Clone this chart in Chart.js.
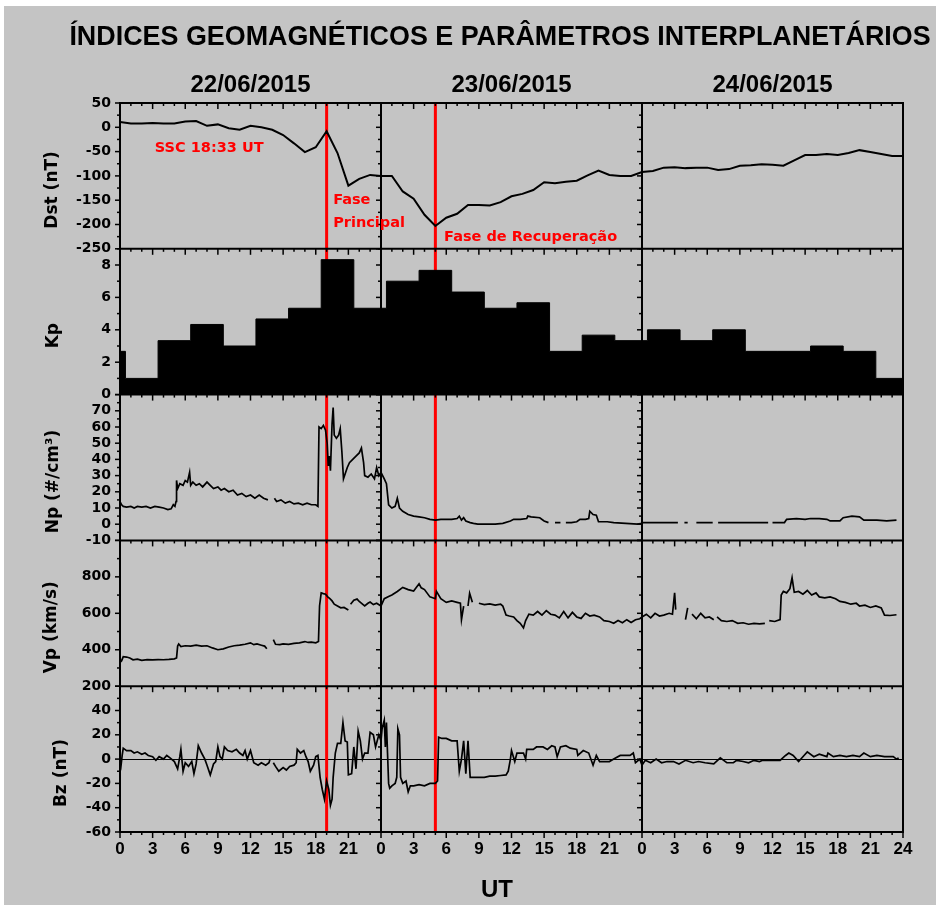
<!DOCTYPE html>
<html lang="pt">
<head>
<meta charset="utf-8">
<title>Índices geomagnéticos e parâmetros interplanetários</title>
<script src="https://cdn.jsdelivr.net/npm/chart.js@4.4.0/dist/chart.umd.min.js"></script>
<style>
  html, body { margin: 0; padding: 0; background: #fff; overflow: hidden; }
  #fundo { position: absolute; left: 4px; top: 6px; width: 932px; height: 899px; background: #c4c4c4; }
  #grafico { position: absolute; left: 0; top: 0; }
  #titulo {
    position: absolute; left: 0; top: 22px; width: 1000px; margin: 0;
    text-align: center; white-space: nowrap;
    font: bold 28px/28px "Liberation Sans", Arial, sans-serif; color: #000;
    transform: scaleX(0.96); transform-origin: 500px 0;
  }
</style>
</head>
<body>
<div id="fundo"></div>
<canvas id="grafico" width="936" height="908"></canvas>
<h1 id="titulo">ÍNDICES GEOMAGNÉTICOS E PARÂMETROS INTERPLANETÁRIOS</h1>
<script>
'use strict';

/* ── dados (horas desde 22/06/2015 00 UT) ── */
const DAY_LABELS = ['22/06/2015', '23/06/2015', '24/06/2015'];
const EVENT_HOURS = [19, 29]; // SSC 18:33 UT e início da fase de recuperação

// Dst horário, 0 a 72 h
const DST_VALUES = [
  11, 8, 8, 9, 8, 8, 12, 13, 3, 6, -2, -5, 3, 0, -5, -16, -33, -51, -41, -8, -53, -120, -106, -98,
  -100, -100, -132, -147, -180, -203, -186, -178, -160, -160, -161, -154, -142, -137, -129, -113, -115, -112, -110, -99, -89, -98, -100, -100,
  -92, -90, -83, -82, -84, -83, -83, -88, -86, -79, -78, -76, -77, -79, -68, -57, -57, -55, -57, -53, -47, -51, -55, -59, -59,
];

// Kp em intervalos de 3 h (o primeiro intervalo começa em -2.5 h)
const KP_FIRST_BIN = -2.5;
const KP_VALUES = [
  2.67, 1.0, 3.33, 4.33, 3.0, 4.67, 5.33, 8.33, 5.33,
  7.0, 7.67, 6.33, 5.33, 5.67, 2.67, 3.67, 3.33,
  4.0, 3.33, 4.0, 2.67, 2.67, 3.0, 2.67, 1.0,
];

// Np (#/cm³): [hora, valor]; null = lacuna
const NP_SERIES = [
  [0, 14], [0.15, 12], [0.3, 11], [0.6, 10.5], [1, 11], [1.3, 10], [1.6, 11], [2, 10.5], [2.4, 11], [2.8, 10],
  [3.2, 11], [3.6, 10.5], [4, 10], [4.4, 9], [4.7, 9.5], [4.9, 12], [5.05, 11], [5.15, 14], [5.2, 27], [5.3, 22],
  [5.5, 25], [5.8, 24], [6, 27], [6.2, 26], [6.4, 32], [6.5, 24], [6.7, 26], [7, 24], [7.3, 25], [7.6, 23],
  [8, 26], [8.3, 24], [8.6, 22], [9, 23], [9.3, 21], [9.6, 22], [10, 20], [10.4, 21], [10.8, 18], [11.2, 19],
  [11.6, 17], [12, 18], [12.4, 16], [12.8, 18], [13.2, 16], [13.6, 15], [13.8, null], [14.2, 16], [14.4, 14], [14.8, 15],
  [15.2, 13], [15.6, 14], [16, 12.5], [16.4, 13], [16.8, 12], [17.2, 13], [17.6, 12], [18, 12], [18.2, 11], [18.3, 60],
  [18.5, 59], [18.7, 61], [18.9, 58], [19.05, 50], [19.15, 36], [19.25, 42], [19.35, 33], [19.5, 62], [19.6, 72], [19.7, 55],
  [19.9, 53], [20.1, 55], [20.25, 59], [20.4, 45], [20.55, 28], [20.9, 35], [21.1, 38], [21.4, 40], [21.7, 42], [22, 44],
  [22.2, 47], [22.4, 38], [22.5, 30], [22.8, 29], [23.1, 31], [23.4, 28], [23.6, 35], [23.8, 30], [24, 32], [24.3, 28],
  [24.5, 25], [24.7, 12], [25, 10], [25.3, 11], [25.5, 16], [25.7, 10], [26, 8], [26.5, 6], [27, 5], [27.5, 4.5],
  [28, 4], [28.5, 3], [29, 2.5], [29.5, 3], [30, 3], [30.5, 3], [31, 3.5], [31.2, 5], [31.4, 2.5], [31.6, 4],
  [31.8, 2], [32.2, 1], [32.5, 0.5], [32.9, 0], [33.5, 0], [34, 0], [34.5, 0], [35.2, 0.5], [35.9, 2], [36.2, 3],
  [36.8, 3], [37.4, 3.5], [37.5, 5], [37.8, 4.5], [38.6, 4], [39, 2], [39.4, 1], [39.6, null], [40, 1], [40.5, 1],
  [40.7, null], [41, 1], [41.5, 1], [42, 1.5], [42.3, 3], [42.8, 3], [43.1, 3.5], [43.2, 8], [43.5, 6], [43.8, 5.5],
  [44, 1.5], [44.8, 1.5], [45.4, 1], [46.5, 0.5], [47.6, 0], [48, 0.5], [48.1, 1], [49, 1], [50, 1], [51.3, 1],
  [51.5, null], [51.9, 1], [52.2, 1], [52.4, null], [53, 1], [54.5, 1], [54.7, null], [55, 1], [56, 1], [57, 1],
  [58, 1], [59.6, 1], [59.8, null], [60, 1], [61.1, 1], [61.3, 3], [62.2, 3.5], [63, 3], [63.5, 3.5], [64.3, 3.5],
  [65, 3], [65.3, 2], [66.2, 2], [66.5, 4], [67.3, 5], [68, 4.5], [68.4, 2.5], [69.6, 2.5], [70.5, 2], [71.4, 2.5],
];

// Vp (km/s): [hora, valor]
const VP_SERIES = [
  [0, 330], [0.15, 340], [0.3, 362], [0.6, 360], [0.9, 355], [1.2, 345], [1.6, 348], [2, 342], [2.5, 346], [3, 344],
  [3.5, 346], [4, 345], [4.5, 347], [5, 350], [5.2, 355], [5.3, 420], [5.4, 432], [5.6, 418], [6, 422], [6.5, 420],
  [7, 425], [7.5, 420], [8, 422], [8.5, 410], [9, 400], [9.5, 405], [10, 415], [10.5, 422], [11, 425], [11.5, 430],
  [12, 438], [12.3, 428], [12.6, 432], [13, 425], [13.3, 420], [13.5, 405], [13.6, null], [14.1, 455], [14.3, 430], [14.7, 428],
  [15, 432], [15.5, 430], [16, 435], [16.5, 438], [17, 445], [17.3, 440], [17.6, 442], [18, 438], [18.25, 445], [18.35, 640],
  [18.5, 712], [18.7, 708], [18.9, 705], [19.1, 690], [19.3, 680], [19.5, 668], [19.7, 650], [20, 640], [20.3, 630], [20.6, 632],
  [20.8, 625], [21, 618], [21.1, null], [21.2, 650], [21.5, 672], [21.8, 678], [22, 665], [22.3, 650], [22.5, 640], [22.8, 655],
  [23, 662], [23.3, 648], [23.6, 655], [24, 640], [24.3, 680], [24.7, 692], [25, 700], [25.5, 720], [26, 742], [26.5, 730],
  [27, 722], [27.5, 762], [27.7, 740], [28, 730], [28.5, 690], [29, 680], [29.1, 720], [29.5, 680], [30, 660], [30.5, 668],
  [31, 660], [31.3, 655], [31.4, 565], [31.6, 640], [31.8, null], [32, 640], [32.15, 710], [32.4, 660], [32.6, null], [33, 655],
  [33.5, 648], [34, 652], [34.5, 645], [35, 650], [35.2, 640], [35.5, 590], [35.8, 585], [36.2, 580], [36.5, 560], [36.8, 545],
  [37.1, 520], [37.3, 560], [37.6, 595], [38, 590], [38.4, 610], [38.8, 590], [39.2, 615], [39.6, 595], [40, 590], [40.4, 575],
  [40.8, 610], [41.2, 575], [41.6, 605], [42, 580], [42.4, 572], [42.8, 600], [43.2, 585], [43.6, 590], [44.1, 580], [44.5, 560],
  [45, 555], [45.4, 545], [45.8, 560], [46.2, 548], [46.6, 565], [47, 550], [47.4, 565], [47.8, 570], [48, 580], [48.4, 595],
  [48.8, 575], [49.2, 600], [49.6, 585], [50, 590], [50.5, 600], [50.8, 595], [51, 712], [51.1, 620], [51.2, null], [52, 565],
  [52.2, 630], [52.3, null], [52.6, 595], [53, 570], [53.4, 600], [53.8, 575], [54.2, 580], [54.6, 565], [54.7, null], [54.9, 580],
  [55.3, 560], [55.8, 555], [56.3, 560], [56.8, 545], [57.3, 548], [57.8, 540], [58.3, 545], [58.8, 542], [59.3, 545], [59.5, null],
  [59.7, 560], [60.2, 555], [60.7, 565], [60.8, 700], [61, 720], [61.3, 712], [61.6, 735], [61.8, 795], [62, 715], [62.4, 720],
  [62.8, 705], [63.2, 725], [63.6, 700], [64, 712], [64.3, 690], [64.8, 685], [65.3, 690], [65.8, 680], [66.2, 665], [66.7, 660],
  [67.2, 650], [67.7, 655], [68, 640], [68.5, 645], [69, 632], [69.5, 640], [70, 630], [70.3, 590], [70.8, 588], [71.4, 592],
];

// Bz (nT): [hora, valor]
const BZ_SERIES = [
  [0, 0], [0.1, -5], [0.2, 3], [0.3, 9], [0.6, 7], [1, 7], [1.3, 5], [1.6, 6], [2, 4], [2.3, 5],
  [2.6, 3], [3, 2], [3.3, -1], [3.6, 2], [4, 0], [4.3, 3], [4.6, 1], [5, -2], [5.3, -8], [5.5, 2],
  [5.6, 8], [5.8, -10], [6, -3], [6.3, -6], [6.6, -2], [6.8, -12], [7, -4], [7.2, 11], [7.5, 5], [7.8, 0],
  [8, -5], [8.3, -13], [8.6, -4], [8.8, -2], [9, 10], [9.2, 2], [9.4, 0], [9.6, 10], [9.9, 7], [10.3, 6],
  [10.7, 8], [11, 5], [11.3, 3], [11.5, 7], [11.7, 0], [12, 7], [12.3, -3], [12.7, -5], [13, -3], [13.4, -5],
  [13.7, -3], [13.8, 0], [13.9, null], [14.1, -3], [14.3, -6], [14.6, -10], [15, -7], [15.3, -9], [15.6, -6], [16, -5],
  [16.2, -3], [16.3, 8], [16.6, 5], [16.9, 7], [17.1, 2], [17.3, -2], [17.5, -10], [17.8, -5], [18, 2], [18.2, 3],
  [18.4, -15], [18.6, -25], [18.8, -33], [19, -18], [19.2, -25], [19.35, -38], [19.5, -33], [19.6, -15], [19.8, 5], [20, 13],
  [20.3, 13], [20.5, 30], [20.7, 15], [20.9, 14], [21, -13], [21.3, -12], [21.5, 10], [21.7, -8], [21.9, 23], [22.1, 15],
  [22.3, 0], [22.5, 5], [22.8, 5], [23, 22], [23.3, 20], [23.5, 10], [23.8, 20], [24, 15], [24.1, 25], [24.3, 32],
  [24.4, 10], [24.5, 30], [24.6, 5], [24.7, -20], [24.8, -24], [25, -22], [25.3, -20], [25.45, -15], [25.55, 25], [25.7, 20],
  [25.8, -15], [26, -20], [26.3, -18], [26.5, -27], [26.7, -22], [27, -22], [27.5, -21], [28, -22], [28.5, -20], [29, -20],
  [29.2, -18], [29.3, 18], [29.6, 17], [30, 17], [30.5, 15], [31, 15], [31.2, -10], [31.4, 0], [31.6, 15], [31.8, -12],
  [32, 15], [32.2, -15], [32.5, -15], [33, -15], [33.5, -15], [34, -14], [34.5, -14], [35, -13.5], [35.5, -13], [35.7, -10],
  [35.9, 0], [36, 7], [36.3, -2], [36.5, 5], [37.1, 5], [37.3, 0], [37.4, 8], [38, 8], [38.3, 10], [38.9, 10],
  [39.3, 8], [39.7, 11], [40, 10], [40.2, 2], [40.5, 10], [41, 11], [41.4, 9], [42, 8], [42.1, 3], [42.6, 7],
  [43.1, 5], [43.5, -5], [43.8, 3], [44.1, -2], [45, -2], [45.4, 0], [46, 3], [46.9, 3], [47.2, 5], [47.4, -3],
  [47.8, 0], [48, -5], [48.3, -1], [48.8, -3], [49.3, 0], [49.8, -3], [50.3, -2], [50.9, -2], [51.4, -4], [52, -1],
  [52.7, -3], [53.2, -2], [53.8, -3], [54.6, -4], [55.2, 1], [55.8, -3], [56.4, -3], [56.7, -1], [57.3, -2], [57.8, -3],
  [58.3, -1], [58.8, -2], [59.1, -1], [60, -1], [60.7, -1], [61.2, 3], [61.5, 5], [61.9, 3], [62.4, -2], [62.9, 3],
  [63.2, 6], [63.8, 2], [64.3, 4], [65, 2], [65.1, 5], [65.6, 2], [66.2, 3], [66.8, 2], [67.4, 3], [68, 2],
  [68.4, 5], [69, 2], [69.6, 3], [70.3, 2], [71.1, 2], [71.4, 0], [71.6, 1],
];

/* ── aparência ── */
const SANS = '"DejaVu Sans", Verdana, sans-serif';
const ARIAL = '"Liberation Sans", Arial, sans-serif';
const TICK_FONT = { family: SANS, size: 14, weight: 'bold' };

// um painel por eixo y, de cima para baixo
const PANELS = [
  { id: 'yDst', title: 'Dst (nT)',   min: -250, max: 50,   step: 50,  minor: 25,  titleX: 53 },
  { id: 'yKp',  title: 'Kp',         min: 0,    max: 9,    step: 2,   minor: 1,   titleX: 54 },
  { id: 'yNp',  title: 'Np (#/cm³)', min: -10,  max: 80,   step: 10,  minor: 5,   titleX: 54 },
  { id: 'yVp',  title: 'Vp (km/s)',  min: 200,  max: 1000, step: 200, minor: 100, titleX: 52 },
  { id: 'yBz',  title: 'Bz (nT)',    min: -60,  max: 60,   step: 20,  minor: 10,  titleX: 62 },
];

const NOTES = [
  { text: 'SSC 18:33 UT',        hour: 3.2,  dst: -43 },
  { text: 'Fase',                hour: 19.6, dst: -150 },
  { text: 'Principal',           hour: 19.6, dst: -198 },
  { text: 'Fase de Recuperação', hour: 29.8, dst: -226 },
];

function seg(ctx, x1, y1, x2, y2) {
  ctx.beginPath();
  ctx.moveTo(x1, y1);
  ctx.lineTo(x2, y2);
  ctx.stroke();
}

const toPoints = series => series.map(([x, y]) => ({ x, y }));

/* ── molduras, marcas, linhas de evento e textos ── */
const panelFrame = {
  id: 'panelFrame',
  beforeDatasetsDraw(chart) {
    const { ctx, chartArea: a, scales } = chart;
    ctx.save();
    ctx.strokeStyle = '#000';
    ctx.lineWidth = 1;
    const y0 = Math.round(scales.yBz.getPixelForValue(0)) + 0.5;
    seg(ctx, a.left, y0, a.right, y0);

    ctx.strokeStyle = '#ff0000';
    ctx.lineWidth = 3;
    EVENT_HOURS.forEach(h => {
      const px = scales.x.getPixelForValue(h);
      seg(ctx, px, a.top, px, a.bottom);
    });
    ctx.restore();
  },
  afterDatasetsDraw(chart) {
    const { ctx, chartArea: a, scales } = chart;
    const sx = scales.x;
    ctx.save();
    ctx.strokeStyle = '#000';

    // marcas do eixo x (para baixo) e do eixo y (para a esquerda)
    ctx.lineWidth = 1.5;
    const xTicks = yTop => {
      for (let h = 0; h <= 72; h++) {
        const px = sx.getPixelForValue(h);
        seg(ctx, px, yTop, px, yTop + (h % 3 === 0 ? 6 : 3));
      }
    };
    PANELS.forEach(p => {
      const s = scales[p.id];
      xTicks(s.top);
      for (let v = p.min; v <= p.max; v += p.minor) {
        const py = s.getPixelForValue(v);
        const len = Math.round((v - p.min) / p.minor) % 2 === 0 ? 5 : 3;
        [0, 24, 48].forEach(h => {
          const px = sx.getPixelForValue(h);
          seg(ctx, px - len, py, px, py);
        });
      }
    });
    xTicks(a.bottom);

    // molduras
    ctx.lineWidth = 2;
    PANELS.forEach(p => seg(ctx, a.left - 1, scales[p.id].top, a.right + 1, scales[p.id].top));
    seg(ctx, a.left - 1, a.bottom, a.right + 1, a.bottom);
    [0, 24, 48, 72].forEach(h => {
      const px = sx.getPixelForValue(h);
      seg(ctx, px, a.top, px, a.bottom);
    });

    // datas
    ctx.fillStyle = '#000';
    ctx.font = `bold 24px ${ARIAL}`;
    ctx.textAlign = 'center';
    ctx.textBaseline = 'alphabetic';
    DAY_LABELS.forEach((d, i) => ctx.fillText(d, sx.getPixelForValue(12 + 24 * i), 92));

    // título do eixo x
    ctx.fillText('UT', 497, 897);

    // títulos dos eixos y
    ctx.font = `bold 17px ${SANS}`;
    ctx.textBaseline = 'middle';
    PANELS.forEach(p => {
      const s = scales[p.id];
      ctx.save();
      ctx.translate(p.titleX, (s.top + s.bottom) / 2 + 14);
      ctx.rotate(-Math.PI / 2);
      ctx.fillText(p.title, 0, 0);
      ctx.restore();
    });

    // anotações das fases
    ctx.fillStyle = '#ff0000';
    ctx.font = `bold 14.5px ${SANS}`;
    ctx.textAlign = 'left';
    NOTES.forEach(n => {
      ctx.fillText(n.text, sx.getPixelForValue(n.hour), scales.yDst.getPixelForValue(n.dst));
    });
    ctx.restore();
  },
};

function yScale(p, weight) {
  return {
    type: 'linear',
    position: 'left',
    stack: 'paineis',
    stackWeight: 1,
    weight,
    min: p.min,
    max: p.max,
    grid: { display: false, drawTicks: false },
    border: { display: false },
    ticks: {
      stepSize: p.step,
      includeBounds: false,
      autoSkip: false,
      color: '#000',
      font: TICK_FONT,
      padding: 9,
      // o limite superior dos painéis de baixo fica escondido
      callback: v => (p.id !== 'yDst' && v === p.max) ? '' : v,
    },
    afterFit: s => { s.width = 116; },
  };
}

const scales = {
  x: {
    type: 'linear',
    position: 'bottom',
    min: 0,
    max: 72,
    grid: { display: false, drawTicks: false },
    border: { display: false },
    ticks: {
      stepSize: 3,
      autoSkip: false,
      maxRotation: 0,
      color: '#000',
      font: { family: ARIAL, size: 17, weight: 'bold' },
      padding: 7,
      callback: v => (v === 72 ? '24' : String(v % 24)),
    },
    afterFit: s => { s.height = 76; },
  },
};
PANELS.forEach((p, i) => { scales[p.id] = yScale(p, PANELS.length - i); });

const lineStyle = { borderColor: '#000', borderWidth: 1.7, pointRadius: 0, tension: 0, spanGaps: false, fill: false };

new Chart(document.getElementById('grafico'), {
  type: 'line',
  data: {
    datasets: [
      {
        label: 'Dst',
        yAxisID: 'yDst',
        data: DST_VALUES.map((v, h) => ({ x: h, y: v })),
        ...lineStyle,
        borderWidth: 2,
      },
      {
        label: 'Kp',
        yAxisID: 'yKp',
        data: KP_VALUES.map((v, i) => ({ x: KP_FIRST_BIN + 3 * i, y: v }))
          .concat([{ x: KP_FIRST_BIN + 3 * KP_VALUES.length, y: KP_VALUES[KP_VALUES.length - 1] }]),
        stepped: true,
        borderColor: '#000',
        borderWidth: 1,
        backgroundColor: '#000',
        pointRadius: 0,
        fill: 'origin',
      },
      { label: 'Np', yAxisID: 'yNp', data: toPoints(NP_SERIES), ...lineStyle },
      { label: 'Vp', yAxisID: 'yVp', data: toPoints(VP_SERIES), ...lineStyle },
      { label: 'Bz', yAxisID: 'yBz', data: toPoints(BZ_SERIES), ...lineStyle },
    ],
  },
  options: {
    responsive: false,
    animation: false,
    layout: { padding: { left: 4, right: 33, top: 103, bottom: 0 } },
    plugins: {
      legend: { display: false },
      tooltip: { enabled: false },
    },
    scales,
  },
  plugins: [panelFrame],
});
</script>
</body>
</html>
